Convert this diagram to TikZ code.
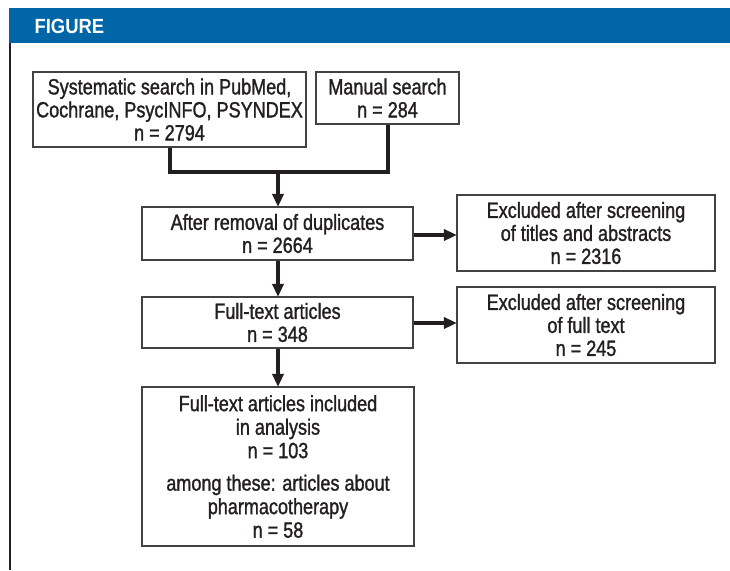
\documentclass[tikz,border=0pt]{standalone}
\usepackage{fontspec}
\setmainfont[FakeStretch=0.82,FakeBold=1.3]{Liberation Sans}
\newfontfamily\titlefont[FakeStretch=0.9]{Liberation Sans}
\usetikzlibrary{arrows.meta}
\definecolor{band}{HTML}{0066A8}
\definecolor{ink}{HTML}{231F20}
\begin{document}
\begin{tikzpicture}[x=1pt,y=-1pt,
  box/.style={draw=ink!85, line width=1.1pt, rectangle, inner sep=0pt, align=center, text=ink,
    font=\fontsize{22}{23}\selectfont},
  conn/.style={draw=ink, line width=3.6pt},
  arr/.style={conn, -{Triangle[length=13pt,width=11pt]}, shorten >=-0.5pt}]
\useasboundingbox (0,0) rectangle (730,570);
\fill[band] (9,8) rectangle (730,43);
\node[anchor=west, text=white, font=\titlefont\fontsize{20.5}{21}\selectfont\bfseries] (title) at (31,26) {FIGURE};
\draw[ink, line width=2.4pt] (10,43) -- (10,570);

\node[box, minimum width=273pt, minimum height=75pt] (s1) at (169.5,109.5)
  {Systematic search in PubMed,\\Cochrane, PsycINFO, PSYNDEX\\n = 2794};
\node[box, minimum width=143pt, minimum height=52pt] (s2) at (387.5,98)
  {Manual search\\n = 284};
\node[box, minimum width=271pt, minimum height=53pt] (dup) at (277.5,233.5)
  {After removal of duplicates\\n = 2664};
\node[box, minimum width=258pt, minimum height=76pt] (ex1) at (586,233)
  {Excluded after screening\\of titles and abstracts\\n = 2316};
\node[box, minimum width=271pt, minimum height=51pt] (ft) at (277.5,322.5)
  {Full-text articles\\n = 348};
\node[box, minimum width=258pt, minimum height=76pt] (ex2) at (586,325)
  {Excluded after screening\\of full text\\n = 245};
\node[box, minimum width=272pt, minimum height=159pt, font=\fontsize{22}{23.5}\selectfont] (inc) at (278,466.5)
  {Full-text articles included\\in analysis\\n = 103\\[9pt]among these: articles about\\pharmacotherapy\\n = 58};

\coordinate (j) at (278,172);
\draw[conn, line join=miter] (s1.south -| 170,0) |- (j) -| (s2.south -| 388,0);
\draw[arr] (j) -- (dup.north -| j);
\draw[arr] (dup.south -| j) -- (ft.north -| j);
\draw[arr] (ft.south -| j) -- (inc.north -| j);
\draw[arr] (dup.east |- 0,235) -- (ex1.west |- 0,235);
\draw[arr] (ft.east |- 0,323) -- (ex2.west |- 0,323);
\end{tikzpicture}
\end{document}
